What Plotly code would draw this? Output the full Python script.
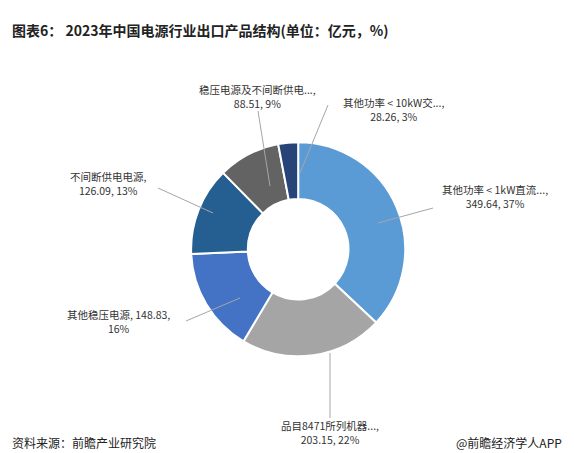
import plotly.graph_objects as go

names = ['其他功率 < 1kW直流...', '品目8471所列机器...', '其他稳压电源', '不间断供电电源',
         '稳压电源及不间断供电...', '其他功率 < 10kW交...']
values = [349.64, 203.15, 148.83, 126.09, 88.51, 28.26]
pcts = [37, 22, 16, 13, 9, 3]
colors = ['#5B9BD5', '#A5A5A5', '#4472C4', '#255E91', '#636363', '#264478']

W, H = 574, 453

# label text position (px), leader line from (px) to (px)
label_pos = [(487, 188), (322, 424), (110, 313), (100, 175), (250, 88), (385, 101)]
line_pts = [((425, 200), (370, 215)), ((322, 410), (322, 345)), ((178, 313), (232, 290)),
            ((150, 180), (205, 205)), ((250, 103), (262, 178)), ((320, 97), (292, 165))]


def px(x, y):
    return x / W, 1 - y / H


fig = go.Figure(go.Pie(
    labels=names, values=values, hole=0.47, sort=False, direction='clockwise',
    rotation=0, marker=dict(colors=colors, line=dict(color='white', width=2)),
    textinfo='none', hoverinfo='label+value+percent',
    domain=dict(x=[0.319, 0.692], y=[0.231, 0.704]), showlegend=False))

annotations = []
for i, (n, v, p) in enumerate(zip(names, values, pcts)):
    if i == 2:
        txt = f'{n}, {v:.2f},<br>{p}%'
    else:
        txt = f'{n},<br>{v:.2f}, {p}%'
    x, y = px(*label_pos[i])
    annotations.append(dict(x=x, y=y, xref='paper', yref='paper', text=txt, showarrow=False,
                            xanchor='center', yanchor='middle',
                            font=dict(size=10.5, color='#333333'), align='center'))

shapes = []
for (a, b) in line_pts:
    x0, y0 = px(*a)
    x1, y1 = px(*b)
    shapes.append(dict(type='line', xref='paper', yref='paper', x0=x0, y0=y0, x1=x1, y1=y1,
                       line=dict(color='#A6A6A6', width=1)))

annotations += [
    dict(x=2 / W, y=1 - 22 / H, xref='paper', yref='paper', xanchor='left', yanchor='middle',
         showarrow=False, text='<b>图表6： 2023年中国电源行业出口产品结构(单位：亿元，%)</b>',
         font=dict(size=14, color='#222222')),
    dict(x=2 / W, y=1 - 434 / H, xref='paper', yref='paper', xanchor='left', yanchor='middle',
         showarrow=False, text='资料来源：前瞻产业研究院', font=dict(size=12, color='#222222')),
    dict(x=556 / W, y=1 - 434 / H, xref='paper', yref='paper', xanchor='right', yanchor='middle',
         showarrow=False, text='@前瞻经济学人APP', font=dict(size=12, color='#222222')),
]

fig.update_layout(width=W, height=H, margin=dict(l=0, r=0, t=0, b=0),
                  paper_bgcolor='white', annotations=annotations, shapes=shapes,
                  font=dict(family='Noto Sans CJK SC'))
fig.write_html('out.html')
